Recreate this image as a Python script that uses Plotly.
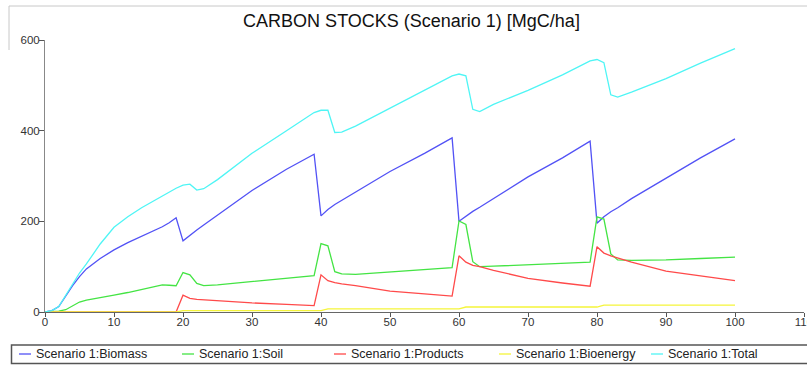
import plotly.graph_objects as go

# Simulation years at which the carbon pools are reported
years = [0, 1, 2, 3, 4, 5, 6, 8, 10, 12, 14, 16, 17, 18, 19,
         20, 21, 22, 23, 25, 30, 35, 39,
         40, 41, 42, 43, 45, 50, 55, 59,
         60, 61, 62, 63, 65, 70, 75, 79,
         80, 81, 82, 83, 85, 90, 95, 100]

# Carbon stocks per pool [MgC/ha]
biomass = [0, 3, 12, 36, 58, 78, 95, 118, 137, 153, 167, 181, 188, 197, 208,
           157, 170, 181, 192, 214, 268, 315, 348,
           212, 226, 237, 246, 265, 310, 350, 384,
           200, 212, 222, 231, 250, 298, 340, 377,
           196, 210, 221, 230, 250, 295, 340, 382]

soil = [0, 1, 2, 5, 14, 22, 26, 31, 37, 43, 50, 57, 60, 59, 58,
        87, 82, 63, 58, 60, 67, 74, 80,
        151, 146, 89, 84, 83, 88, 93, 98,
        201, 193, 111, 100, 101, 104, 107, 110,
        210, 205, 128, 115, 114, 115, 118, 121]

products = [0, 0, 0, 0, 0, 0, 0, 0, 0, 0, 0, 0, 0, 0, 0,
            37, 30, 28, 27, 25, 20, 17, 14,
            82, 69, 65, 62, 58, 46, 40, 35,
            124, 110, 103, 100, 92, 74, 64, 57,
            144, 130, 124, 119, 110, 90, 79, 69]

bioenergy = [0, 0, 0, 0, 0, 0, 0, 0, 0, 0, 0, 0, 0, 0, 0,
             3, 3, 3, 3, 3, 3, 3, 3,
             3, 7, 7, 7, 7, 7, 7, 7,
             7, 11, 11, 11, 11, 11, 11, 11,
             11, 15, 15, 15, 15, 15, 15, 15]

total = [0, 3, 12, 37, 60, 86, 106, 150, 187, 210, 230, 247, 256, 265, 273,
         280, 282, 269, 272, 292, 350, 400, 440,
         445, 445, 396, 397, 410, 450, 490, 521,
         525, 521, 447, 442, 458, 489, 523, 554,
         557, 550, 479, 474, 485, 515, 549, 581]

series_names = ["Scenario 1:Biomass", "Scenario 1:Soil", "Scenario 1:Products",
                "Scenario 1:Bioenergy", "Scenario 1:Total"]
series_values = [biomass, soil, products, bioenergy, total]
series_colors = ["#5252f5", "#44e444", "#ff4a4a", "#f5f53a", "#4ff5f5"]

x_ticks = [0, 10, 20, 30, 40, 50, 60, 70, 80, 90, 100, 110]
y_ticks = [0, 200, 400, 600]

FONT = "Liberation Sans, Arial, sans-serif"
W, H = 807, 365
ML, MR, MT, MB = 45, 3, 40, 53
PW, PH = W - ML - MR, H - MT - MB


def px_x(px):
    """Horizontal pixel position -> paper coordinate."""
    return (px - ML) / PW


def px_y(py):
    """Vertical pixel position (from top) -> paper coordinate."""
    return (H - MB - py) / PH


fig = go.Figure()
for name, vals, col in zip(series_names, series_values, series_colors):
    fig.add_trace(go.Scatter(x=years, y=vals, name=name, mode="lines",
                             line=dict(color=col, width=1.3), showlegend=False))

tickfont = dict(family=FONT, size=11.5, color="#333")

# Legend row below the plot: short line sample followed by the series name
legend_line_x = [19, 182, 334, 499, 651]
legend_y = 354
shapes = [
    # legend frame
    dict(type="rect", xref="paper", yref="paper",
         x0=px_x(11.5), x1=px_x(820), y0=px_y(345), y1=px_y(363.5),
         line=dict(color="#555", width=1.5), fillcolor="white", layer="below"),
    # thin window frame at the top left
    dict(type="line", xref="paper", yref="paper",
         x0=px_x(9), x1=px_x(W + 5), y0=px_y(6), y1=px_y(6),
         line=dict(color="#c8c8c8", width=1)),
    dict(type="line", xref="paper", yref="paper",
         x0=px_x(9), x1=px_x(9), y0=px_y(6), y1=px_y(50),
         line=dict(color="#c8c8c8", width=1)),
]
annotations = []
for name, col, lx in zip(series_names, series_colors, legend_line_x):
    shapes.append(dict(type="line", xref="paper", yref="paper",
                       x0=px_x(lx), x1=px_x(lx + 12),
                       y0=px_y(legend_y), y1=px_y(legend_y),
                       line=dict(color=col, width=1.3)))
    annotations.append(dict(text=name, xref="paper", yref="paper",
                            x=px_x(lx + 15), y=px_y(legend_y),
                            xanchor="left", yanchor="middle", showarrow=False,
                            font=dict(family=FONT, size=12.5, color="#222")))

fig.update_layout(
    width=W, height=H,
    margin=dict(l=ML, r=MR, t=MT, b=MB, pad=0, autoexpand=False),
    paper_bgcolor="white", plot_bgcolor="white",
    font=dict(family=FONT, color="#222"),
    showlegend=False,
    title=dict(text="CARBON STOCKS (Scenario 1) [MgC/ha]",
               x=411.5 / W, xref="container", xanchor="center",
               y=1 - 20.5 / H, yref="container", yanchor="middle",
               font=dict(family=FONT, size=18, color="#111")),
    xaxis=dict(range=[0, 110], tickvals=x_ticks, ticks="outside", ticklen=4,
               tickcolor="#555", showline=True, linecolor="#666", linewidth=1,
               showgrid=False, zeroline=False, tickfont=tickfont,
               ticklabeloverflow="allow", ticklabelstandoff=-5),
    yaxis=dict(range=[0, 600], tickvals=y_ticks, ticks="outside", ticklen=5,
               tickcolor="#555", showline=True, linecolor="#888", linewidth=1,
               showgrid=False, zeroline=False, tickfont=tickfont,
               ticklabeloverflow="allow", ticklabelstandoff=-3),
    # inner halves of the crossing tick marks
    xaxis2=dict(range=[0, 110], tickvals=x_ticks, ticks="inside", ticklen=5,
                overlaying="x", anchor="y", showticklabels=False,
                showline=False, showgrid=False, zeroline=False, tickcolor="#555"),
    yaxis2=dict(range=[0, 600], tickvals=y_ticks, ticks="inside", ticklen=3,
                overlaying="y", anchor="x", side="left", showticklabels=False,
                showline=False, showgrid=False, zeroline=False, tickcolor="#555"),
    shapes=shapes,
    annotations=annotations,
)

fig.write_html("out.html")
